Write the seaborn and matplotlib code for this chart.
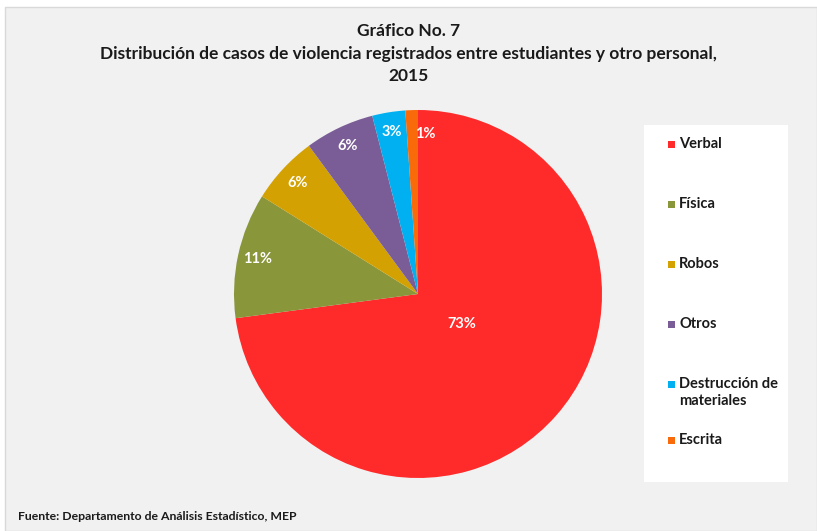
import matplotlib
matplotlib.use("Agg")
import numpy as np
import matplotlib.pyplot as plt
from matplotlib.patches import Rectangle
import seaborn as sns

# data
categorias = ["Verbal", "Física", "Robos", "Otros", "Destrucción de\nmateriales", "Escrita"]
porcentajes = [72.9, 11.0, 6.0, 6.1, 2.9, 1.1]
colores = ["#FF2B2B", "#89963A", "#D4A102", "#7A5D96", "#00B0F0", "#F96A0A"]

titulo = "Gráfico No. 7\nDistribución de casos de violencia registrados entre estudiantes y otro personal,\n2015"
fuente = "Fuente: Departamento de Análisis Estadístico, MEP"

sns.set_theme(style="white")
plt.rcParams['font.family'] = ['Lato', 'DejaVu Sans']

W, H = 817, 531
fig = plt.figure(figsize=(W / 100, H / 100), dpi=100)
fig.patch.set_facecolor("white")

# chart area background + border
fig.patches.append(Rectangle((5 / W, 0), (W - 5) / W, (H - 7) / H, transform=fig.transFigure,
                             facecolor="#F1F1F1", edgecolor="#D9D9D9", lw=1, zorder=-5))

# pie
cx, cy, r = 418, 294, 184
ax = fig.add_axes([(cx - r) / W, (H - cy - r) / H, 2 * r / W, 2 * r / H])
ax.set_zorder(2)
ax.patch.set_alpha(0)
wedges, textos, autot = ax.pie(porcentajes, colors=colores, startangle=90, counterclock=False,
                               radius=1, autopct=lambda p: f"{p:.0f}%", pctdistance=0.89,
                               wedgeprops=dict(linewidth=0),
                               textprops=dict(color="white", fontsize=10.5, fontweight="bold"))
ax.set_xlim(-1, 1)
ax.set_ylim(-1, 1)
ax.set_aspect("equal")
ax.axis("off")

# Verbal label near centre, Escrita label just outside its slice
w0 = wedges[0]
ang = np.deg2rad((w0.theta1 + w0.theta2) / 2 + 7)
autot[0].set_position((0.29 * np.cos(ang), 0.29 * np.sin(ang)))
w5 = wedges[-1]
ang = np.deg2rad((w5.theta1 + w5.theta2) / 2 - 4.5)
autot[-1].set_position((0.87 * np.cos(ang), 0.87 * np.sin(ang)))

# title and source
fig.text(0.5, 1 - 23 / H, titulo, ha="center", va="top", fontsize=12.5, fontweight="bold",
         color="#1A1A1A", linespacing=1.5)
fig.text(18 / W, 1 - 517 / H, fuente, ha="left", va="center", fontsize=8.8, fontweight="bold",
         color="#1A1A1A")

# legend box
lx0, ly0, lx1, ly1 = 644, 125, 788, 482
fig.patches.append(Rectangle((lx0 / W, 1 - ly1 / H), (lx1 - lx0) / W, (ly1 - ly0) / H,
                             transform=fig.transFigure, facecolor="white", edgecolor="none", zorder=1))
leyenda_y = [144, 204, 264, 324, 384, 440]
for cat, col, yy in zip(categorias, colores, leyenda_y):
    fig.patches.append(Rectangle((668 / W, 1 - (yy + 4) / H), 7 / W, 7 / H, transform=fig.transFigure,
                                 facecolor=col, edgecolor="none", zorder=2))
    fig.text(679 / W, 1 - (yy - 7) / H, cat, ha="left", va="top", fontsize=10.5, fontweight="bold",
             color="#1A1A1A", linespacing=1.25, zorder=3)

fig.savefig("out.png", dpi=100, facecolor=fig.get_facecolor())
